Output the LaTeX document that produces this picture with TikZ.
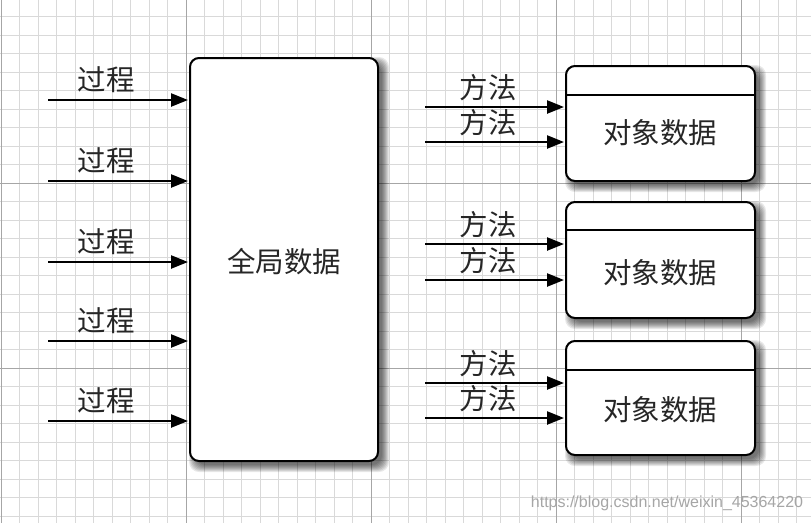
\documentclass[tikz,border=0pt]{standalone}
\usepackage{fontspec}
\newfontfamily\cjk{Noto Sans CJK SC}
\newfontfamily\wm{Liberation Sans}
\usetikzlibrary{arrows.meta,calc}
\tikzset{
  minorgrid/.style={draw=black!15, line width=0.8pt},
  majorgrid/.style={draw=black!35, line width=1pt},
  databox/.style={draw=black, line width=2pt, fill=white, rounded corners=9pt, inner sep=0pt},
  arr/.style={line width=2.4pt, -{Triangle[length=17pt,width=13pt]}, shorten >=1pt},
  lbl/.style={font=\cjk\fontsize{28.5}{31}\selectfont, inner sep=0pt, text=black!85},
  boxtext/.style={font=\cjk\fontsize{28.5}{31}\selectfont, inner sep=0pt, text=black!85},
  divider/.style={line width=1.6pt},
}
\newcommand{\softshadow}[4]{%
  \foreach \s in {0,1,...,7}{
    \fill[black, opacity=0.09, rounded corners=10pt]
      ({#1+5-\s+1},{#2+5-\s+1}) rectangle ({#3+5+\s-1},{#4+5+\s-1});
  }}
\begin{document}
\begin{tikzpicture}[x=1pt,y=-1pt]
\useasboundingbox (0,0) rectangle (811,523);
\fill[white] (0,0) rectangle (811,523);
% grid
\foreach \i in {0,...,44}{ \draw[minorgrid] ({1+18.5*\i},0) -- ({1+18.5*\i},523); }
\foreach \j in {0,...,29}{ \draw[minorgrid] (0,{-2+18.5*\j}) -- (811,{-2+18.5*\j}); }
\foreach \i in {0,...,4}{ \draw[majorgrid] ({1+185*\i},0) -- ({1+185*\i},523); }
\foreach \j in {1,2}{ \draw[majorgrid] (0,{-2+185*\j}) -- (811,{-2+185*\j}); }
% shadows
\softshadow{190}{58}{378}{461}
\softshadow{566}{66}{755}{181}
\softshadow{566}{202}{755}{318}
\softshadow{566}{341}{755}{455}
% global data box
\node[databox, minimum width=188pt, minimum height=403pt] (G) at (284,259.5) {};
\node[boxtext] (Gt) at (284,262) {全局数据};
% object boxes
\node[databox, minimum width=189pt, minimum height=115pt] (O1) at (660.5,123.5) {};
\node[databox, minimum width=189pt, minimum height=116pt] (O2) at (660.5,260) {};
\node[databox, minimum width=189pt, minimum height=114pt] (O3) at (660.5,398) {};
\draw[divider] ($(O1.north west)+(0,30)$) -- ($(O1.north east)+(0,30)$);
\draw[divider] ($(O2.north west)+(0,29)$) -- ($(O2.north east)+(0,29)$);
\draw[divider] ($(O3.north west)+(0,30)$) -- ($(O3.north east)+(0,30)$);
\node[boxtext] (O1t) at (660,133) {对象数据};
\node[boxtext] (O2t) at (660,273) {对象数据};
\node[boxtext] (O3t) at (660,410) {对象数据};
% procedures
\foreach \y [count=\k] in {100,181,262,341,421}{
  \coordinate (P\k) at (48,\y);
  \draw[arr] (P\k) -- (P\k -| G.west);
  \node[lbl] (PL\k) at (106,{\y-20}) {过程};
}
% methods
\foreach \ya/\yb/\n in {107/142/1,244/280/2,383/418/3}{
  \coordinate (Ma\n) at (425,\ya);
  \coordinate (Mb\n) at (425,\yb);
  \draw[arr] (Ma\n) -- (Ma\n -| O\n.west);
  \draw[arr] (Mb\n) -- (Mb\n -| O\n.west);
  \node[lbl] (MLa\n) at (488,{\ya-19}) {方法};
  \node[lbl] (MLb\n) at (488,{\yb-19}) {方法};
}
% watermark
\node[font=\wm\fontsize{16}{16}\selectfont, text=black!35, inner sep=0pt] (W) at (667,503) {https://blog.csdn.net/weixin\_45364220};
\end{tikzpicture}
\end{document}
